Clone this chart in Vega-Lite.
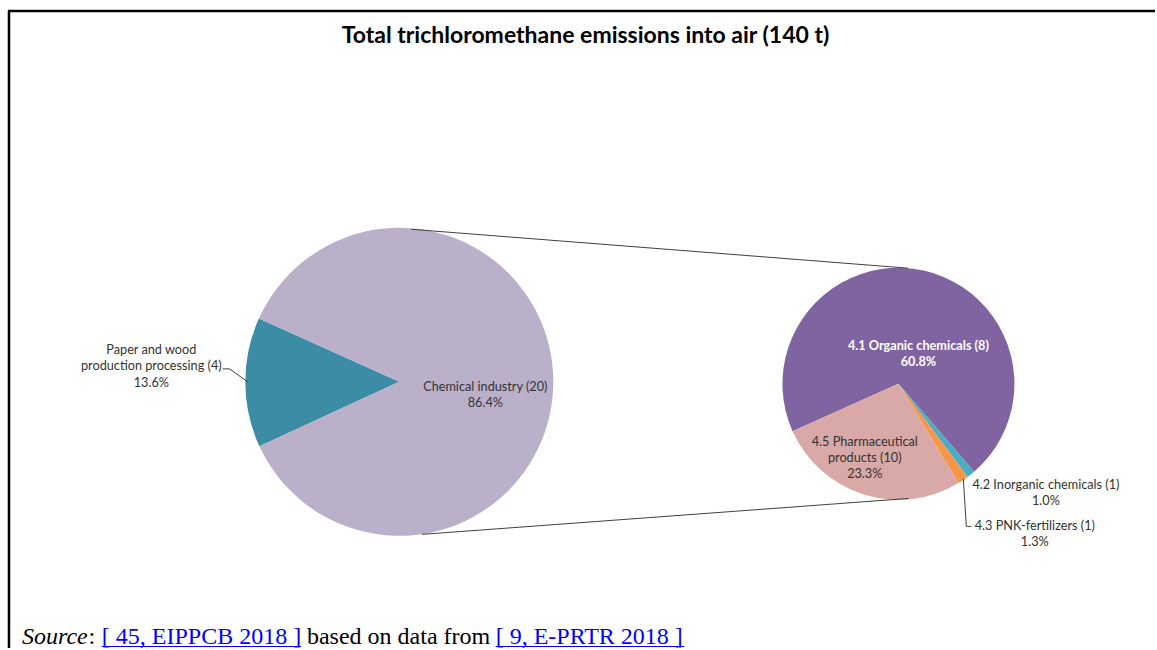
{
  "$schema": "https://vega.github.io/schema/vega-lite/v6.json",
  "width": 1157,
  "height": 650,
  "padding": 0,
  "autosize": {"type": "fit", "contains": "padding"},
  "background": "white",
  "config": {"view": {"stroke": null}, "font": "Lato", "axis": {"disable": true}},
  "title": {
    "text": "Total trichloromethane emissions into air (140 t)",
    "font": "Lato",
    "fontSize": 23,
    "fontWeight": "bold",
    "color": "#000000",
    "anchor": "middle",
    "frame": "group",
    "baseline": "alphabetic",
    "offset": -42,
    "dx": 8,
    "dy": 24
  },
  "datasets": {
    "big": [
      {"name": "Paper and wood production processing (4)", "label": "Paper and wood\nproduction processing (4)\n13.6%", "pct": 13.6, "idx": 1},
      {"name": "Chemical industry (20)", "label": "Chemical industry (20)\n86.4%", "pct": 86.4, "idx": 2}
    ],
    "small": [
      {"name": "4.1 Organic chemicals (8)", "label": "4.1  Organic chemicals (8)\n60.8%", "pct": 60.8, "idx": 1},
      {"name": "4.2 Inorganic chemicals (1)", "label": "4.2 Inorganic chemicals (1)\n1.0%", "pct": 1.0, "idx": 2},
      {"name": "4.3 PNK-fertilizers (1)", "label": "4.3 PNK-fertilizers (1)\n1.3%", "pct": 1.3, "idx": 3},
      {"name": "4.5 Pharmaceutical products (10)", "label": "4.5 Pharmaceutical\nproducts (10)\n23.3%", "pct": 23.3, "idx": 4}
    ]
  },
  "resolve": {"scale": {"theta": "independent"}},
  "layer": [
    {
      "data": {"values": [{}]},
      "mark": {"type": "rule", "color": "#000000", "strokeWidth": 2.5},
      "encoding": {
        "x": {"datum": 8, "type": "quantitative", "scale": {"domain": [0, 1157], "nice": false, "zero": false}, "axis": null},
        "x2": {"datum": 1157},
        "y": {"datum": 11, "type": "quantitative", "scale": {"domain": [0, 650], "nice": false, "zero": false, "reverse": true}, "axis": null},
        "y2": {"datum": 11}
      }
    },
    {
      "data": {"values": [{}]},
      "mark": {"type": "rule", "color": "#000000", "strokeWidth": 2.5},
      "encoding": {
        "x": {"datum": 9, "type": "quantitative"},
        "x2": {"datum": 9},
        "y": {"datum": 11, "type": "quantitative"},
        "y2": {"datum": 650}
      }
    },
    {
      "data": {"name": "big"},
      "layer": [
        {
          "mark": {"type": "arc", "outerRadius": 154},
          "encoding": {
            "x": {"datum": 400, "type": "quantitative"},
            "y": {"datum": 383, "type": "quantitative"},
            "theta": {"field": "pct", "type": "quantitative", "stack": "normalize", "scale": {"range": [4.281, 10.564]}},
            "order": {"field": "idx", "type": "quantitative"},
            "color": {
              "field": "name", "type": "nominal", "legend": null,
              "scale": {
                "domain": ["Paper and wood production processing (4)", "Chemical industry (20)", "4.1 Organic chemicals (8)", "4.2 Inorganic chemicals (1)", "4.3 PNK-fertilizers (1)", "4.5 Pharmaceutical products (10)"],
                "range": ["#3D8CA5", "#BAB0C9", "#8064A2", "#4BACC6", "#F79646", "#D9A9A7"]
              }
            }
          }
        },
        {
          "mark": {"type": "text", "radius": 86, "dy": 6, "align": "center", "baseline": "middle", "fontSize": 12.7, "lineHeight": 16, "lineBreak": "\n", "color": "#333333"},
          "encoding": {
            "x": {"datum": 400, "type": "quantitative"},
            "y": {"datum": 383, "type": "quantitative"},
            "theta": {"field": "pct", "type": "quantitative", "stack": "normalize"},
            "order": {"field": "idx", "type": "quantitative"},
            "detail": {"field": "name", "type": "nominal"},
            "text": {"condition": {"test": "datum.idx === 2", "field": "label"}, "value": ""}
          }
        },
        {
          "mark": {"type": "text", "radius": 248, "dy": -33, "align": "center", "baseline": "middle", "fontSize": 12.7, "lineHeight": 16.5, "lineBreak": "\n", "color": "#333333"},
          "encoding": {
            "x": {"datum": 400, "type": "quantitative"},
            "y": {"datum": 383, "type": "quantitative"},
            "theta": {"field": "pct", "type": "quantitative", "stack": "normalize"},
            "order": {"field": "idx", "type": "quantitative"},
            "detail": {"field": "name", "type": "nominal"},
            "text": {"condition": {"test": "datum.idx === 1", "field": "label"}, "value": ""}
          }
        }
      ]
    },
    {
      "data": {"name": "small"},
      "layer": [
        {
          "mark": {"type": "arc", "outerRadius": 116},
          "encoding": {
            "x": {"datum": 900, "type": "quantitative"},
            "y": {"datum": 385, "type": "quantitative"},
            "theta": {"field": "pct", "type": "quantitative", "stack": "normalize", "scale": {"range": [4.292, 10.575]}},
            "order": {"field": "idx", "type": "quantitative"},
            "color": {"field": "name", "type": "nominal", "legend": null}
          }
        },
        {
          "mark": {"type": "text", "radius": 32, "dx": 13, "dy": -7, "align": "center", "baseline": "middle", "fontSize": 12.7, "fontWeight": "bold", "lineHeight": 16, "lineBreak": "\n", "color": "#FFFFFF"},
          "encoding": {
            "x": {"datum": 900, "type": "quantitative"},
            "y": {"datum": 385, "type": "quantitative"},
            "theta": {"field": "pct", "type": "quantitative", "stack": "normalize"},
            "order": {"field": "idx", "type": "quantitative"},
            "detail": {"field": "name", "type": "nominal"},
            "text": {"condition": {"test": "datum.idx === 1", "field": "label"}, "value": ""}
          }
        },
        {
          "mark": {"type": "text", "radius": 140, "dx": 60, "dy": -8, "align": "center", "baseline": "middle", "fontSize": 12.7, "lineHeight": 16, "lineBreak": "\n", "color": "#333333"},
          "encoding": {
            "x": {"datum": 900, "type": "quantitative"},
            "y": {"datum": 385, "type": "quantitative"},
            "theta": {"field": "pct", "type": "quantitative", "stack": "normalize"},
            "order": {"field": "idx", "type": "quantitative"},
            "detail": {"field": "name", "type": "nominal"},
            "text": {"condition": {"test": "datum.idx === 2", "field": "label"}, "value": ""}
          }
        },
        {
          "mark": {"type": "text", "radius": 180, "dx": 36, "dy": -7, "align": "center", "baseline": "middle", "fontSize": 12.7, "lineHeight": 16, "lineBreak": "\n", "color": "#333333"},
          "encoding": {
            "x": {"datum": 900, "type": "quantitative"},
            "y": {"datum": 385, "type": "quantitative"},
            "theta": {"field": "pct", "type": "quantitative", "stack": "normalize"},
            "order": {"field": "idx", "type": "quantitative"},
            "detail": {"field": "name", "type": "nominal"},
            "text": {"condition": {"test": "datum.idx === 3", "field": "label"}, "value": ""}
          }
        },
        {
          "mark": {"type": "text", "radius": 76, "dx": -11, "dy": -14, "align": "center", "baseline": "middle", "fontSize": 12.7, "lineHeight": 16, "lineBreak": "\n", "color": "#333333"},
          "encoding": {
            "x": {"datum": 900, "type": "quantitative"},
            "y": {"datum": 385, "type": "quantitative"},
            "theta": {"field": "pct", "type": "quantitative", "stack": "normalize"},
            "order": {"field": "idx", "type": "quantitative"},
            "detail": {"field": "name", "type": "nominal"},
            "text": {"condition": {"test": "datum.idx === 4", "field": "label"}, "value": ""}
          }
        }
      ]
    },
    {
      "data": {"values": [{}]},
      "mark": {"type": "rule", "color": "#404040", "strokeWidth": 1},
      "encoding": {"x": {"datum": 412, "type": "quantitative"}, "y": {"datum": 230, "type": "quantitative"}, "x2": {"datum": 910}, "y2": {"datum": 269}}
    },
    {
      "data": {"values": [{}]},
      "mark": {"type": "rule", "color": "#404040", "strokeWidth": 1},
      "encoding": {"x": {"datum": 423, "type": "quantitative"}, "y": {"datum": 536, "type": "quantitative"}, "x2": {"datum": 910}, "y2": {"datum": 500}}
    },
    {
      "data": {"values": [{}]},
      "mark": {"type": "rule", "color": "#404040", "strokeWidth": 1},
      "encoding": {"x": {"datum": 223, "type": "quantitative"}, "y": {"datum": 370, "type": "quantitative"}, "x2": {"datum": 230}, "y2": {"datum": 370}}
    },
    {
      "data": {"values": [{}]},
      "mark": {"type": "rule", "color": "#404040", "strokeWidth": 1},
      "encoding": {"x": {"datum": 230, "type": "quantitative"}, "y": {"datum": 370, "type": "quantitative"}, "x2": {"datum": 248}, "y2": {"datum": 383}}
    },
    {
      "data": {"values": [{}]},
      "mark": {"type": "rule", "color": "#404040", "strokeWidth": 1},
      "encoding": {"x": {"datum": 965, "type": "quantitative"}, "y": {"datum": 480, "type": "quantitative"}, "x2": {"datum": 968}, "y2": {"datum": 528}}
    },
    {
      "data": {"values": [{}]},
      "mark": {"type": "rule", "color": "#404040", "strokeWidth": 1},
      "encoding": {"x": {"datum": 968, "type": "quantitative"}, "y": {"datum": 528, "type": "quantitative"}, "x2": {"datum": 973}, "y2": {"datum": 528}}
    },
    {
      "data": {"values": [{}]},
      "mark": {"type": "text", "font": "Liberation Serif", "fontSize": 24, "fontStyle": "italic", "align": "left", "baseline": "alphabetic", "color": "#000000"},
      "encoding": {"x": {"datum": 22, "type": "quantitative"}, "y": {"datum": 645.5, "type": "quantitative"}, "text": {"value": "Source"}}
    },
    {
      "data": {"values": [{}]},
      "mark": {"type": "text", "font": "Liberation Serif", "fontSize": 24, "align": "left", "baseline": "alphabetic", "color": "#000000"},
      "encoding": {"x": {"datum": 88.6, "type": "quantitative"}, "y": {"datum": 645.5, "type": "quantitative"}, "text": {"value": ":"}}
    },
    {
      "data": {"values": [{}]},
      "mark": {"type": "text", "font": "Liberation Serif", "fontSize": 24, "align": "left", "baseline": "alphabetic", "color": "#0000FF"},
      "encoding": {"x": {"datum": 102, "type": "quantitative"}, "y": {"datum": 645.5, "type": "quantitative"}, "text": {"value": "[ 45, EIPPCB 2018 ]"}}
    },
    {
      "data": {"values": [{}]},
      "mark": {"type": "text", "font": "Liberation Serif", "fontSize": 24, "align": "left", "baseline": "alphabetic", "color": "#000000"},
      "encoding": {"x": {"datum": 307.5, "type": "quantitative"}, "y": {"datum": 645.5, "type": "quantitative"}, "text": {"value": "based on data from"}}
    },
    {
      "data": {"values": [{}]},
      "mark": {"type": "text", "font": "Liberation Serif", "fontSize": 24, "align": "left", "baseline": "alphabetic", "color": "#0000FF"},
      "encoding": {"x": {"datum": 496.5, "type": "quantitative"}, "y": {"datum": 645.5, "type": "quantitative"}, "text": {"value": "[ 9, E-PRTR 2018 ]"}}
    },
    {
      "data": {"values": [{}]},
      "mark": {"type": "rule", "color": "#0000FF", "strokeWidth": 1},
      "encoding": {"x": {"datum": 102, "type": "quantitative"}, "y": {"datum": 648.5, "type": "quantitative"}, "x2": {"datum": 301.5}, "y2": {"datum": 648.5}}
    },
    {
      "data": {"values": [{}]},
      "mark": {"type": "rule", "color": "#0000FF", "strokeWidth": 1},
      "encoding": {"x": {"datum": 496.5, "type": "quantitative"}, "y": {"datum": 648.5, "type": "quantitative"}, "x2": {"datum": 685.5}, "y2": {"datum": 648.5}}
    }
  ]
}
